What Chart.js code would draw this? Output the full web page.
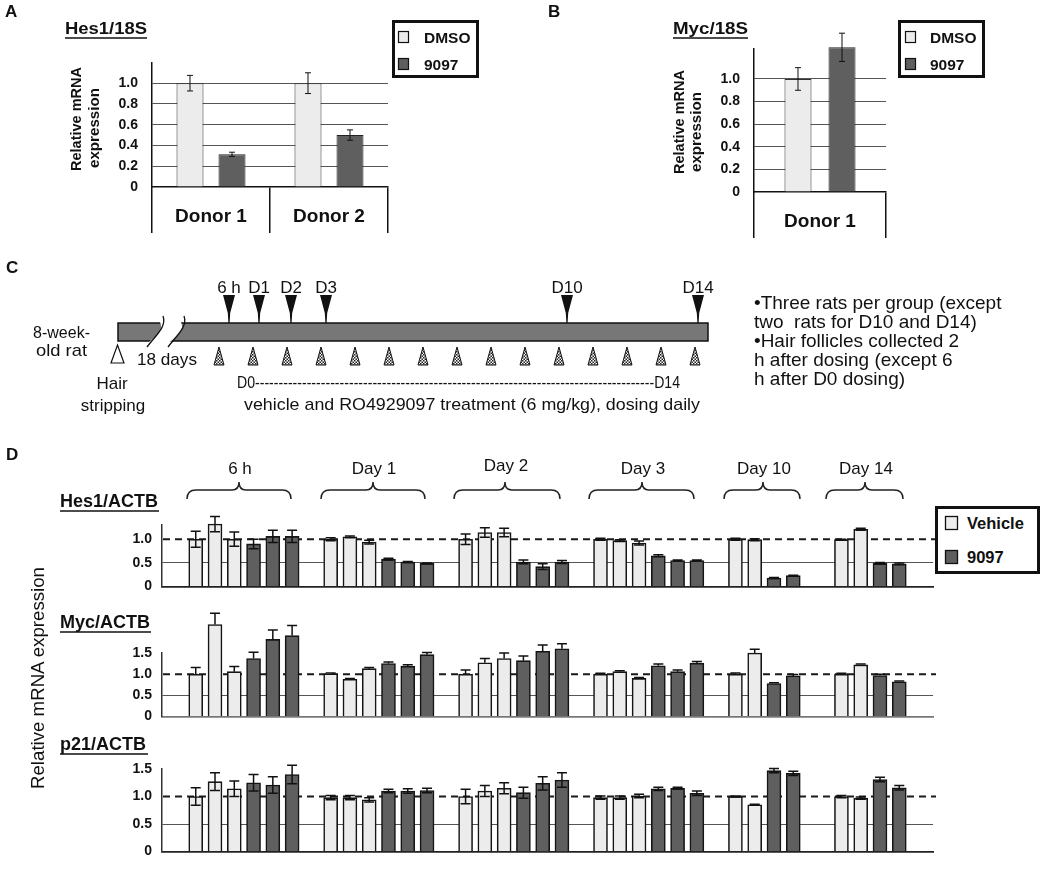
<!DOCTYPE html>
<html><head><meta charset="utf-8">
<script src="https://cdn.jsdelivr.net/npm/chart.js@4.4.1/dist/chart.umd.min.js"></script>
<style>
html,body{margin:0;padding:0;background:#fff;}
#wrap{position:relative;width:1050px;height:873px;overflow:hidden;background:#fff;}
canvas{position:absolute;}
#ov{position:absolute;left:0;top:0;}
.f{font-family:"Liberation Sans",Arial,sans-serif;fill:#111;}
.n{font-family:"Liberation Sans Narrow","Arial Narrow","Liberation Sans",Arial,sans-serif;fill:#111;}
.b{font-weight:bold;}
.pre{white-space:pre;}
</style></head><body><div id="wrap">
<canvas id="cA" width="310" height="200" style="left:90px;top:40px"></canvas>
<canvas id="cB" width="206" height="215" style="left:692px;top:25px"></canvas>
<canvas id="cHes" width="845" height="110" style="left:100px;top:495px"></canvas>
<canvas id="cMyc" width="845" height="140" style="left:100px;top:595px"></canvas>
<canvas id="cP21" width="845" height="130" style="left:100px;top:740px"></canvas>
<svg id="ov" width="1050" height="873" xmlns="http://www.w3.org/2000/svg">
<defs>
<pattern id="chk" width="3" height="3" patternUnits="userSpaceOnUse"><rect width="3" height="3" fill="#fff"/><rect width="1.5" height="1.5" fill="#222"/><rect x="1.5" y="1.5" width="1.5" height="1.5" fill="#222"/></pattern>
</defs>
<!-- panel letters -->
<text class="f b" x="5" y="17" font-size="17">A</text>
<text class="f b" x="548" y="17" font-size="17">B</text>
<text class="f b" x="6" y="273" font-size="17">C</text>
<text class="f b" x="6" y="460" font-size="17">D</text>
<!-- panel A titles -->
<text class="f b" x="65" y="34" font-size="16" textLength="82" lengthAdjust="spacingAndGlyphs">Hes1/18S</text>
<line x1="65" y1="38" x2="147" y2="38" stroke="#111" stroke-width="1.5"/>
<text class="f b" font-size="14.5" transform="translate(81,171) rotate(-90)" textLength="104" lengthAdjust="spacingAndGlyphs">Relative mRNA</text>
<text class="f b" font-size="14.5" transform="translate(99,168) rotate(-90)" textLength="80" lengthAdjust="spacingAndGlyphs">expression</text>
<rect x="393.5" y="21.5" width="84" height="55" fill="#fff" stroke="#111" stroke-width="3"/>
<rect x="398.5" y="31.5" width="10" height="11" fill="#ececec" stroke="#111" stroke-width="1.2"/>
<text class="f b" x="424" y="43" font-size="15.5">DMSO</text>
<rect x="398.5" y="58.5" width="10" height="11" fill="#5f5f5f" stroke="#111" stroke-width="1.2"/>
<text class="f b" x="424" y="70" font-size="15.5">9097</text>
<!-- panel B titles -->
<text class="f b" x="673" y="34" font-size="16" textLength="75" lengthAdjust="spacingAndGlyphs">Myc/18S</text>
<line x1="673" y1="38" x2="748" y2="38" stroke="#111" stroke-width="1.5"/>
<text class="f b" font-size="14.5" transform="translate(684,174) rotate(-90)" textLength="104" lengthAdjust="spacingAndGlyphs">Relative mRNA</text>
<text class="f b" font-size="14.5" transform="translate(701,172) rotate(-90)" textLength="80" lengthAdjust="spacingAndGlyphs">expression</text>
<rect x="899.5" y="21.5" width="84" height="55" fill="#fff" stroke="#111" stroke-width="3"/>
<rect x="905.5" y="31.5" width="10" height="11" fill="#ececec" stroke="#111" stroke-width="1.2"/>
<text class="f b" x="930" y="43" font-size="15.5">DMSO</text>
<rect x="905.5" y="58.5" width="10" height="11" fill="#5f5f5f" stroke="#111" stroke-width="1.2"/>
<text class="f b" x="930" y="70" font-size="15.5">9097</text>
<!-- panel C -->
<text class="n" x="33" y="338" font-size="17" textLength="57" lengthAdjust="spacingAndGlyphs">8-week-</text>
<text class="n" x="36" y="356" font-size="17" textLength="51" lengthAdjust="spacingAndGlyphs">old rat</text>
<rect x="118" y="323" width="590" height="18" fill="#777" stroke="#111" stroke-width="1.5"/>
<path d="M160,322 C164,330 156,336 149,342 L170,342 C177,336 185,330 181,322 Z" fill="#fff"/>
<path d="M163,316 C167,327 155,336 147,347" stroke="#111" fill="none" stroke-width="1.3"/>
<path d="M184,316 C188,327 176,336 168,347" stroke="#111" fill="none" stroke-width="1.3"/>
<path d="M111,363 L117.5,345 L124,363 Z" fill="#fff" stroke="#111" stroke-width="1.2"/>
<text class="n" x="137" y="365" font-size="17" textLength="60" lengthAdjust="spacingAndGlyphs">18 days</text>
<g id="hatch"></g>
<g id="mark"></g>
<text class="n" x="112" y="389" font-size="17" text-anchor="middle">Hair</text>
<text class="n" x="113" y="411" font-size="17" text-anchor="middle">stripping</text>
<text class="n" x="237" y="388" font-size="17" textLength="443" lengthAdjust="spacingAndGlyphs">D0-------------------------------------------------------------------------------------D14</text>
<text class="n" x="244" y="410" font-size="17" textLength="456" lengthAdjust="spacingAndGlyphs">vehicle and RO4929097 treatment (6 mg/kg), dosing daily</text>
<text class="n pre" x="754" y="309" font-size="19">•Three rats per group (except</text>
<text class="n pre" x="754" y="328" font-size="19">two  rats for D10 and D14)</text>
<text class="n pre" x="754" y="347" font-size="19">•Hair follicles collected 2</text>
<text class="n pre" x="754" y="366" font-size="19">h after dosing (except 6</text>
<text class="n pre" x="754" y="385" font-size="19">h after D0 dosing)</text>
<!-- panel D -->
<g id="braces"></g>
<text class="f b" x="60" y="507" font-size="18">Hes1/ACTB</text>
<line x1="60" y1="511" x2="159" y2="511" stroke="#111" stroke-width="1.5"/>
<text class="f b" x="60" y="628" font-size="18">Myc/ACTB</text>
<line x1="60" y1="632" x2="151" y2="632" stroke="#111" stroke-width="1.5"/>
<text class="f b" x="60" y="750" font-size="18">p21/ACTB</text>
<line x1="60" y1="754" x2="148" y2="754" stroke="#111" stroke-width="1.5"/>
<text class="f" font-size="18" text-anchor="middle" transform="translate(44,678) rotate(-90)" textLength="222" lengthAdjust="spacingAndGlyphs">Relative mRNA expression</text>
<rect x="936.5" y="507.5" width="102" height="65" fill="#fff" stroke="#111" stroke-width="3"/>
<rect x="945.5" y="516.5" width="12" height="13" fill="#ececec" stroke="#111" stroke-width="1.3"/>
<text class="f b" x="967" y="529" font-size="16.5">Vehicle</text>
<rect x="945.5" y="550.5" width="12" height="13" fill="#5f5f5f" stroke="#111" stroke-width="1.3"/>
<text class="f b" x="967" y="563" font-size="16.5">9097</text>
</svg>
</div>
<script>
// ---------- DATA ----------
// Panel A: Hes1/18S
const donorsA = ['Donor 1', 'Donor 2'];
const hes18sDMSO = [1.00, 1.00];
const hes18sDMSOErr = [0.075, 0.10];
const hes18s9097 = [0.315, 0.50];
const hes18s9097Err = [0.02, 0.05];
const ticksA = [0, 0.2, 0.4, 0.6, 0.8, 1.0];
// Panel B: Myc/18S
const donorsB = ['Donor 1'];
const myc18sDMSO = [1.00];
const myc18sDMSOErr = [0.10];
const myc18s9097 = [1.28];
const myc18s9097Err = [0.125];
// Panel D: time points and per-rat values
const groups = ['6 h', 'Day 1', 'Day 2', 'Day 3', 'Day 10', 'Day 14'];
const ratsPerArm = [3, 3, 3, 3, 2, 2];
const hes1Vehicle    = [1.00, 1.32, 1.00,  1.00, 1.05, 0.94,  1.00, 1.14, 1.14,  1.00, 0.97, 0.92,  1.00, 0.99,  0.99, 1.21];
const hes1VehicleErr = [0.17, 0.16, 0.15,  0.03, 0.02, 0.04,  0.11, 0.10, 0.09,  0.02, 0.02, 0.04,  0.02, 0.02,  0.01, 0.02];
const hes19097       = [0.90, 1.06, 1.06,  0.58, 0.52, 0.49,  0.52, 0.42, 0.52,  0.65, 0.55, 0.55,  0.18, 0.23,  0.49, 0.48];
const hes19097Err    = [0.10, 0.13, 0.13,  0.02, 0.01, 0.01,  0.04, 0.06, 0.03,  0.02, 0.01, 0.01,  0.01, 0.01,  0.02, 0.02];
const mycVehicle     = [1.00, 2.17, 1.06,  1.01, 0.88, 1.13,  1.00, 1.27, 1.37,  1.00, 1.06, 0.90,  1.00, 1.50,  1.00, 1.22];
const mycVehicleErr  = [0.16, 0.27, 0.12,  0.02, 0.02, 0.03,  0.10, 0.10, 0.13,  0.02, 0.02, 0.02,  0.03, 0.09,  0.02, 0.02];
const myc9097        = [1.37, 1.82, 1.91,  1.25, 1.19, 1.46,  1.32, 1.54, 1.60,  1.20, 1.06, 1.26,  0.78, 0.96,  0.97, 0.82];
const myc9097Err     = [0.15, 0.22, 0.24,  0.04, 0.03, 0.05,  0.11, 0.15, 0.12,  0.04, 0.04, 0.04,  0.02, 0.03,  0.03, 0.02];
const p21Vehicle     = [1.00, 1.27, 1.14,  0.98, 0.98, 0.94,  1.00, 1.10, 1.15,  0.98, 0.98, 1.01,  1.00, 0.85,  1.00, 0.97];
const p21VehicleErr  = [0.16, 0.16, 0.14,  0.04, 0.04, 0.04,  0.13, 0.10, 0.10,  0.03, 0.03, 0.03,  0.01, 0.01,  0.02, 0.02];
const p219097        = [1.25, 1.21, 1.40,  1.10, 1.10, 1.11,  1.07, 1.24, 1.30,  1.14, 1.15, 1.06,  1.47, 1.42,  1.31, 1.16];
const p219097Err     = [0.15, 0.15, 0.17,  0.03, 0.04, 0.04,  0.10, 0.12, 0.13,  0.03, 0.02, 0.04,  0.04, 0.04,  0.04, 0.04];
const ticksHes = [0, 0.5, 1.0];
const ticksMycP21 = [0, 0.5, 1.0, 1.5];
// Panel C timeline
const markerLabels = ['6 h', 'D1', 'D2', 'D3', 'D10', 'D14'];

// ---------- STYLE ----------
const FAM = '"Liberation Sans", Arial, sans-serif';
const LIGHT = '#ececec', DARK = '#5f5f5f', EDGE = '#151515';
const fmt = v => (v === 0 ? '0' : Number(v).toFixed(1));

const errorBarPlugin = {
  id: 'errbars',
  afterDatasetsDraw(chart, args, opts) {
    const ctx = chart.ctx, ys = chart.scales.y;
    chart.data.datasets.forEach((ds, i) => {
      if (!ds.errors) return;
      const meta = chart.getDatasetMeta(i);
      meta.data.forEach((elm, j) => {
        const v = ds.data[j], e = ds.errors[j];
        if (v == null || e == null) return;
        const x = elm.x;
        const yt = ys.getPixelForValue(v + e);
        const yb = ys.getPixelForValue(ds.errUpOnly ? v : v - e);
        ctx.save();
        ctx.strokeStyle = '#111';
        ctx.lineWidth = opts.width || 1.2;
        const c = opts.cap || 4;
        ctx.beginPath();
        ctx.moveTo(x, yt); ctx.lineTo(x, yb);
        ctx.moveTo(x - c, yt); ctx.lineTo(x + c, yt);
        if (!ds.errUpOnly) { ctx.moveTo(x - c, yb); ctx.lineTo(x + c, yb); }
        ctx.stroke();
        ctx.restore();
      });
    });
  }
};
const refLinePlugin = {
  id: 'refline',
  beforeDatasetsDraw(chart, args, opts) {
    if (opts.value == null) return;
    const ctx = chart.ctx, ca = chart.chartArea;
    const y = chart.scales.y.getPixelForValue(opts.value);
    ctx.save();
    ctx.strokeStyle = '#1a1a1a';
    ctx.lineWidth = 2;
    ctx.setLineDash([7, 5]);
    ctx.beginPath();
    ctx.moveTo(ca.left + 1, y); ctx.lineTo(ca.right + 3, y);
    ctx.stroke();
    ctx.restore();
  }
};

// ---------- PANEL A / B ----------
function donorChart(id, labels, dmso, dmsoErr, drug, drugErr, max, pad, cp, bp) {
  new Chart(document.getElementById(id), {
    type: 'bar',
    data: {
      labels,
      datasets: [
        { label: 'DMSO', data: dmso, errors: dmsoErr, backgroundColor: LIGHT, borderColor: '#333', borderWidth: 1, borderSkipped: 'bottom', clip: false, categoryPercentage: cp, barPercentage: bp },
        { label: '9097', data: drug, errors: drugErr, backgroundColor: DARK, borderColor: '#222', borderWidth: 1, borderSkipped: 'bottom', clip: false, categoryPercentage: cp, barPercentage: bp }
      ]
    },
    options: {
      responsive: false, animation: false,
      layout: { padding: pad },
      plugins: { legend: { display: false }, tooltip: { enabled: false }, errbars: { width: 1, cap: 3 } },
      scales: {
        x: {
          grid: { display: true, drawOnChartArea: false, drawTicks: true, tickLength: 46, color: '#111', lineWidth: 1.5 },
          border: { color: '#111', width: 1.5 },
          ticks: { padding: -28, color: '#111', font: { family: FAM, weight: 'bold', size: 19 } },
          afterFit(s) { s.height = 46; }
        },
        y: {
          min: 0, max,
          afterBuildTicks(s) { s.ticks = ticksA.map(v => ({ value: v })); },
          grid: { drawTicks: false, color: c => (c.tick && c.tick.value > 0 ? '#555' : 'rgba(0,0,0,0)'), lineWidth: 1 },
          border: { color: '#111', width: 1.5 },
          ticks: { padding: 14, color: '#111', font: { family: FAM, weight: 'bold', size: 14 }, callback: fmt },
          afterFit(s) { s.width = 62; }
        }
      }
    },
    plugins: [errorBarPlugin]
  });
}
donorChart('cA', donorsA, hes18sDMSO, hes18sDMSOErr, hes18s9097, hes18s9097Err, 1.2, { left: 0, right: 12, top: 13, bottom: 7 }, 0.712, 0.643);
donorChart('cB', donorsB, myc18sDMSO, myc18sDMSOErr, myc18s9097, myc18s9097Err, 1.265, { left: 0, right: 12, top: 24, bottom: 2 }, 0.667, 0.614);

// ---------- PANEL D ----------
const SLOTS = 80;
function spread(veh, drug) {
  const v = Array(SLOTS).fill(null), d = Array(SLOTS).fill(null);
  let cur = 3, k = 0;
  groups.forEach((g, gi) => {
    const n = ratsPerArm[gi];
    for (let i = 0; i < n; i++) { v[cur] = veh[k + i]; cur += 2; }
    for (let i = 0; i < n; i++) { d[cur] = drug[k + i]; cur += 2; }
    k += n;
    cur += (gi === 4 ? 5 : 4) - 2;
  });
  return { v, d };
}
function rowChart(id, veh, vehErr, drug, drugErr, max, ticks, upOnly, zeroColor, pad) {
  const vals = spread(veh, drug), errs = spread(vehErr, drugErr);
  new Chart(document.getElementById(id), {
    type: 'bar',
    data: {
      labels: Array(SLOTS).fill(''),
      datasets: [
        { label: 'Vehicle', data: vals.v, errors: errs.v, errUpOnly: upOnly, backgroundColor: LIGHT, borderColor: EDGE, borderWidth: 1.6, borderSkipped: 'bottom', barThickness: 14, grouped: false, clip: false },
        { label: '9097', data: vals.d, errors: errs.d, errUpOnly: upOnly, backgroundColor: DARK, borderColor: EDGE, borderWidth: 1.6, borderSkipped: 'bottom', barThickness: 14, grouped: false, clip: false }
      ]
    },
    options: {
      responsive: false, animation: false,
      layout: { padding: pad },
      plugins: { legend: { display: false }, tooltip: { enabled: false }, refline: { value: 1 }, errbars: { width: 1.5, cap: 5 } },
      scales: {
        x: {
          grid: { display: false, drawTicks: false },
          ticks: { display: false },
          border: { color: zeroColor, width: 1.8 },
          afterFit(s) { s.height = 0; }
        },
        y: {
          min: 0, max,
          afterBuildTicks(s) { s.ticks = ticks.map(v => ({ value: v })); },
          grid: { drawTicks: false, color: c => (c.tick && Math.abs(c.tick.value - 0.5) < 1e-6 ? '#555' : 'rgba(0,0,0,0)'), lineWidth: 1 },
          border: { color: '#333', width: 1.5 },
          ticks: { padding: 10, color: '#111', font: { family: FAM, weight: 'bold', size: 14 }, callback: fmt },
          afterFit(s) { s.width = 62; }
        }
      }
    },
    plugins: [refLinePlugin, errorBarPlugin]
  });
}
rowChart('cHes', hes1Vehicle, hes1VehicleErr, hes19097, hes19097Err, 1.3, ticksHes, false, '#222', { left: 0, right: 12, top: 30, bottom: 8 });
rowChart('cMyc', mycVehicle, mycVehicleErr, myc9097, myc9097Err, 1.5, ticksMycP21, true, '#777', { left: 0, right: 12, top: 58, bottom: 11 });
rowChart('cP21', p21Vehicle, p21VehicleErr, p219097, p219097Err, 1.5, ticksMycP21, false, '#222', { left: 0, right: 12, top: 29, bottom: 12 });

// ---------- decorations (diagram / braces) ----------
const NS = 'http://www.w3.org/2000/svg';
function add(parent, tag, attrs, text) {
  const e = document.createElementNS(NS, tag);
  for (const k in attrs) e.setAttribute(k, attrs[k]);
  if (text != null) e.textContent = text;
  document.getElementById(parent).appendChild(e);
  return e;
}
for (let i = 0; i < 15; i++) {
  const x = 219 + i * 34;
  add('hatch', 'path', { d: `M${x - 5},365 L${x},347 L${x + 5},365 Z`, fill: 'url(#chk)', stroke: '#111', 'stroke-width': 1 });
}
const markerX = [229, 259, 291, 326, 567, 698];
markerLabels.forEach((lab, i) => {
  const x = markerX[i];
  add('mark', 'path', { d: `M${x - 6},295 L${x + 6},295 L${x + 1.2},313 L${x + 0.6},323 L${x - 0.6},323 L${x - 1.2},313 Z`, fill: '#111' });
  add('mark', 'text', { class: 'n', x: x, y: 293, 'font-size': 17, 'text-anchor': 'middle' }, lab);
});
const braceSpans = [[187, 239, 291], [321, 373, 425], [454, 505, 560], [589, 642, 694], [724, 763, 800], [826, 865, 903]];
const titleY = [474, 474, 471, 474, 474, 474];
groups.forEach((g, i) => {
  const [a, m, b] = braceSpans[i];
  add('braces', 'path', { d: `M${a},499 Q${a},490 ${a + 9},490 L${m - 7},490 Q${m},490 ${m},482 Q${m},490 ${m + 7},490 L${b - 9},490 Q${b},490 ${b},499`, fill: 'none', stroke: '#222', 'stroke-width': 1.5 });
  add('braces', 'text', { class: 'n', x: m + 1, y: titleY[i], 'font-size': 17, 'text-anchor': 'middle' }, g);
});
</script>
</body></html>
